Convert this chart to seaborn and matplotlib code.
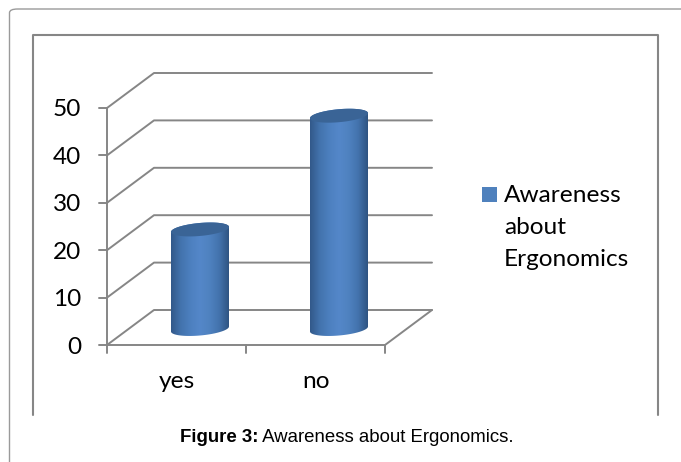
import numpy as np
import pandas as pd
import matplotlib
matplotlib.use("Agg")
import matplotlib.pyplot as plt
import seaborn as sns
from matplotlib.colors import LinearSegmentedColormap
from matplotlib.patches import FancyBboxPatch, PathPatch, Rectangle
from matplotlib.path import Path

categories = ["yes", "no"]
counts = [21, 45]
value_ticks = [0, 10, 20, 30, 40, 50]
series_name = "Awareness about Ergonomics"
caption_bold = "Figure 3:"
caption_rest = " Awareness about Ergonomics."

W, H = 681, 462
GRID = "#868686"
LW = 1.4
sns.set_theme(style="white")
plt.rcParams["font.family"] = ["Lato", "DejaVu Sans"]

fig = plt.figure(figsize=(W / 100, H / 100), dpi=100)
ax = fig.add_axes([0, 0, 1, 1])

# Data units: one category spans 139 px, ten count units span 47.4 px.
X0, Y0, PX_X, PX_Y = 107, 345, 139.0, 4.74
DEPTH_X, DEPTH_Y = 47 / PX_X, 35 / PX_Y


def set_limits():
    ax.set_xlim(-X0 / PX_X, (W - X0) / PX_X)
    ax.set_ylim(-(H - Y0) / PX_Y, Y0 / PX_Y)
    ax.set_axis_off()


set_limits()


def fx(px):
    return px / W


def fy(py):
    return 1 - py / H


# Outer rounded card runs off the right and bottom edges; inner chart frame is open below
fig.add_artist(FancyBboxPatch((fx(9.5), fy(490)), fx(720), fy(9) - fy(490),
                              boxstyle="round,pad=0,rounding_size=0.012",
                              transform=fig.transFigure, fc="white", ec="#9a9a9a", lw=1.0,
                              mutation_aspect=H / W, zorder=-5))
fig.add_artist(plt.Line2D([fx(33), fx(33), fx(658), fx(658)], [fy(414.5), fy(34.5), fy(34.5), fy(414.5)],
                          transform=fig.transFigure, color=GRID, lw=1.5, zorder=-4))

# Walls and floor of the 3-D box
n_cat = len(categories)
for v in value_ticks:
    ax.plot([0, DEPTH_X, n_cat + DEPTH_X], [v, v + DEPTH_Y, v + DEPTH_Y], color=GRID, lw=LW, zorder=1)
    ax.plot([-8 / PX_X, 0], [v, v], color=GRID, lw=LW, zorder=1)
    ax.text(-26 / PX_X, v - 2 / PX_Y, str(v), ha="right", va="center", fontsize=17.6, color="black")
ax.plot([0, 0], [0, max(value_ticks)], color=GRID, lw=LW, zorder=1)
ax.plot([0, n_cat, n_cat + DEPTH_X], [0, 0, DEPTH_Y], color=GRID, lw=LW, zorder=1)
for i in range(n_cat + 1):
    ax.plot([i, i], [0, -8 / PX_Y], color=GRID, lw=LW, zorder=1)
for i, c in enumerate(categories):
    ax.text(i + 0.5, -36 / PX_Y, c, ha="center", va="center", fontsize=17.6, color="black")

# Bars stand mid-way through the depth of the box
BASE = 16 / PX_Y
table = pd.DataFrame({"pos": np.arange(n_cat) + 0.5 + DEPTH_X / 2, "count": counts})
sns.barplot(data=table, x="pos", y="count", native_scale=True, width=58 / PX_X,
            bottom=BASE, color="#4f81bd", saturation=1, ax=ax, zorder=2)
set_limits()

side_cmap = LinearSegmentedColormap.from_list(
    "cyl", ["#32598a", "#4373ad", "#4d80bf", "#5487c9", "#4f82c0", "#4373ad", "#2f5482"])
gradient = np.linspace(0, 1, 128)[None, :]
RX = 29 / PX_X
RY = 6.5 / PX_Y
TILT = 2.5 / PX_Y  # the ellipses rise slightly toward the right


def rim(cx, cy, t):
    return cx + RX * np.cos(t), cy + RY * np.sin(t) + TILT * np.cos(t)


for bar in list(ax.patches):
    if not isinstance(bar, Rectangle):
        continue
    x0, w = bar.get_x(), bar.get_width()
    y0, h = bar.get_y(), bar.get_height()
    cx, top = x0 + w / 2, y0 + h
    bar.set_visible(False)
    xs_b, ys_b = rim(cx, y0, np.linspace(np.pi, 2 * np.pi, 60))
    xs_t, ys_t = rim(cx, top, np.linspace(0, np.pi, 60))
    verts = np.column_stack([np.r_[xs_b, xs_t], np.r_[ys_b, ys_t]])
    clip = PathPatch(Path(np.vstack([verts, verts[0]]), closed=True),
                     transform=ax.transData, fc="none", ec="none")
    ax.add_patch(clip)
    im = ax.imshow(gradient, cmap=side_cmap, aspect="auto", zorder=3,
                   extent=[x0, x0 + w, y0 - 2 * RY, top + 2 * RY])
    im.set_clip_path(clip)
    xs, ys = rim(cx, top, np.linspace(0, 2 * np.pi, 120))
    ax.fill(xs, ys, color="#3a6496", lw=0, zorder=4)
set_limits()

# Legend key and wrapped label
fig.add_artist(Rectangle((fx(482), fy(202)), 15 / W, 15 / H, transform=fig.transFigure,
                         fc="#4f81bd", ec="none"))
for k, line in enumerate(series_name.split(" ")):
    fig.text(fx(504), fy(195 + 32.5 * k), line, ha="left", va="center", fontsize=17.6, color="black")

# Caption with a bold lead-in
lead = fig.text(fx(180), fy(437), caption_bold, fontsize=13.4, family="Liberation Sans",
                weight="bold", ha="left", va="center", color="black")
fig.canvas.draw()
bb = lead.get_window_extent()
fig.text(bb.x1 / W, fy(437), caption_rest, fontsize=13.4, family="Liberation Sans",
         ha="left", va="center", color="black")

fig.savefig("out.png", dpi=100)
